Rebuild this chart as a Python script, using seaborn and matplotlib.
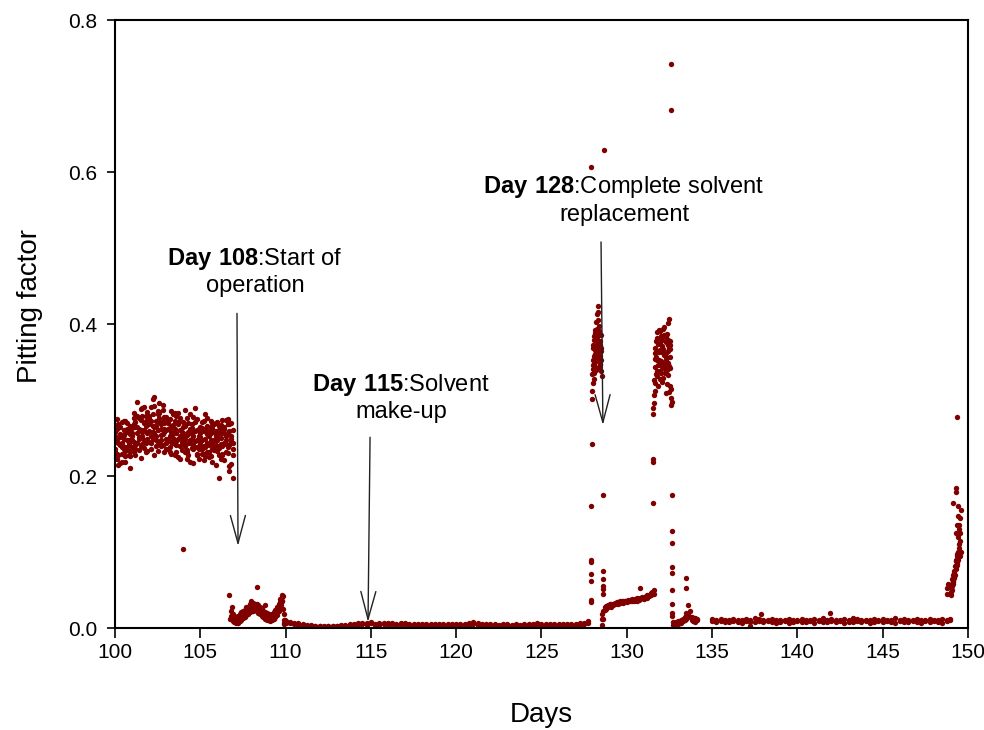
import matplotlib
matplotlib.use("Agg")
import matplotlib.pyplot as plt
import pandas as pd
import seaborn as sns

# ---------------- data ----------------
A_days = [100.0, 100.1, 100.2, 100.3, 100.4, 100.5, 100.6, 100.7, 100.8, 100.9,
          101.0, 101.1, 101.2, 101.3, 101.4, 101.5, 101.6, 101.7, 101.8, 101.9,
          102.0, 102.1, 102.2, 102.3, 102.4, 102.5, 102.6, 102.7, 102.8, 102.9,
          103.0, 103.1, 103.2, 103.3, 103.4, 103.5, 103.6, 103.7, 103.8, 103.9,
          104.0, 104.1, 104.2, 104.3, 104.4, 104.5, 104.6, 104.7, 104.8, 104.9,
          105.0, 105.1, 105.2, 105.3, 105.4, 105.5, 105.6, 105.7, 105.8, 105.9,
          106.0, 106.1, 106.2, 106.3, 106.4, 106.5, 106.6, 106.7, 106.8, 106.9]
A_v1 = [0.245, 0.262, 0.228, 0.251, 0.271, 0.236, 0.219, 0.258, 0.243, 0.266,
        0.252, 0.268, 0.241, 0.279, 0.234, 0.261, 0.289, 0.247, 0.272, 0.256,
        0.276, 0.252, 0.301, 0.264, 0.239, 0.285, 0.271, 0.247, 0.293, 0.258,
        0.261, 0.248, 0.275, 0.229, 0.256, 0.283, 0.241, 0.268, 0.222, 0.252,
        0.246, 0.266, 0.223, 0.258, 0.281, 0.237, 0.252, 0.271, 0.229, 0.262,
        0.238, 0.263, 0.221, 0.249, 0.276, 0.232, 0.257, 0.244, 0.268, 0.215,
        0.233, 0.261, 0.242, 0.274, 0.221, 0.252, 0.268, 0.207, 0.245, 0.236]
A_v2 = [0.231, 0.249, 0.214, 0.255, 0.238, 0.273, 0.226, 0.247, 0.259, 0.233,
        0.238, 0.283, 0.265, 0.297, 0.249, 0.274, 0.258, 0.291, 0.243, 0.268,
        0.279, 0.236, 0.266, 0.304, 0.253, 0.282, 0.244, 0.269, 0.287, 0.232,
        0.277, 0.236, 0.263, 0.245, 0.281, 0.228, 0.257, 0.271, 0.239, 0.250,
        0.244, 0.287, 0.234, 0.255, 0.219, 0.268, 0.241, 0.259, 0.227, 0.253,
        0.251, 0.236, 0.272, 0.226, 0.255, 0.241, 0.265, 0.218, 0.247, 0.259,
        0.271, 0.198, 0.256, 0.228, 0.265, 0.242, 0.275, 0.213, 0.249, 0.260]
A_v3 = [0.258, 0.222, 0.267, 0.241, 0.229, 0.254, 0.272, 0.235, 0.248, 0.211,
        0.263, 0.245, 0.228, 0.257, 0.276, 0.239, 0.252, 0.270, 0.231, 0.284,
        0.245, 0.291, 0.258, 0.227, 0.272, 0.261, 0.296, 0.240, 0.255, 0.278,
        0.236, 0.270, 0.253, 0.286, 0.244, 0.262, 0.231, 0.249, 0.276, 0.258,
        0.271, 0.232, 0.254, 0.244, 0.262, 0.249, 0.217, 0.238, 0.275, 0.236,
        0.264, 0.247, 0.229, 0.281, 0.243, 0.259, 0.226, 0.270, 0.239, 0.252,
        0.248, 0.228, 0.267, 0.239, 0.256, 0.274, 0.230, 0.259, 0.216, 0.244]
A_v4 = [0.236, 0.275, 0.243, 0.264, 0.218, 0.249, 0.238, 0.262, 0.227, 0.255,
        0.247, 0.232, 0.271, 0.243, 0.262, 0.224, 0.279, 0.237, 0.266, 0.249,
        0.268, 0.243, 0.282, 0.257, 0.248, 0.233, 0.276, 0.262, 0.241, 0.270,
        0.249, 0.262, 0.238, 0.258, 0.267, 0.242, 0.279, 0.225, 0.260, 0.245,
        0.257, 0.240, 0.276, 0.228, 0.247, 0.263, 0.236, 0.289, 0.248, 0.222,
        0.243, 0.229, 0.259, 0.238, 0.266, 0.225, 0.248, 0.263, 0.234, 0.270,
        0.254, 0.237, 0.222, 0.262, 0.243, 0.231, 0.256, 0.241, 0.270, 0.197]
A_v5 = [0.252, 0.229, 0.268, 0.217, 0.244, 0.261, 0.233, 0.270, 0.241, 0.226,
        0.257, 0.276, 0.236, 0.265, 0.251, 0.288, 0.242, 0.260, 0.279, 0.233,
        0.259, 0.273, 0.249, 0.292, 0.266, 0.245, 0.283, 0.254, 0.272, 0.262,
        0.244, 0.274, 0.232, 0.266, 0.250, 0.272, 0.246, 0.283, 0.253, 0.234,
        0.265, 0.249, 0.231, 0.270, 0.243, 0.256, 0.278, 0.246, 0.261, 0.239,
        0.256, 0.271, 0.240, 0.262, 0.231, 0.253, 0.273, 0.236, 0.258, 0.246,
        0.239, 0.266, 0.250, 0.229, 0.262, 0.247, 0.238, 0.269, 0.253, 0.228]

B_days = [106.8, 106.9, 107.0, 107.1, 107.2, 107.3, 107.4, 107.5, 107.6, 107.7,
          107.8, 107.9, 108.0, 108.1, 108.2, 108.3, 108.4, 108.5, 108.6, 108.7,
          108.8, 108.9, 109.0, 109.1, 109.2, 109.3, 109.4, 109.5, 109.6, 109.7,
          109.8, 109.9]
B_v1 = [0.023, 0.019, 0.016, 0.015, 0.016, 0.018, 0.021, 0.022, 0.024, 0.027,
        0.028, 0.031, 0.032, 0.033, 0.032, 0.031, 0.030, 0.027, 0.026, 0.023,
        0.021, 0.020, 0.018, 0.017, 0.019, 0.021, 0.024, 0.027, 0.032, 0.038,
        0.044, 0.011]
B_v2 = [0.012, 0.009, 0.008, 0.007, 0.007, 0.009, 0.011, 0.013, 0.015, 0.017,
        0.019, 0.021, 0.022, 0.023, 0.024, 0.022, 0.020, 0.018, 0.016, 0.014,
        0.012, 0.011, 0.010, 0.009, 0.010, 0.012, 0.014, 0.017, 0.022, 0.028,
        0.035, 0.005]
B_v3 = [0.016, 0.013, 0.011, 0.012, 0.010, 0.013, 0.015, 0.018, 0.019, 0.021,
        0.025, 0.025, 0.028, 0.027, 0.029, 0.026, 0.025, 0.022, 0.020, 0.019,
        0.016, 0.015, 0.013, 0.012, 0.015, 0.017, 0.020, 0.023, 0.026, 0.034,
        0.041, 0.007]

C_days = [110.0, 110.25, 110.5, 110.75, 111.0, 111.25, 111.5, 111.75,
          112.0, 112.25, 112.5, 112.75, 113.0, 113.25, 113.5, 113.75,
          114.0, 114.25, 114.5, 114.75, 115.0, 115.25, 115.5, 115.75,
          116.0, 116.25, 116.5, 116.75, 117.0, 117.25, 117.5, 117.75,
          118.0, 118.25, 118.5, 118.75, 119.0, 119.25, 119.5, 119.75,
          120.0, 120.25, 120.5, 120.75, 121.0, 121.25, 121.5, 121.75,
          122.0, 122.25, 122.5, 122.75, 123.0, 123.25, 123.5, 123.75,
          124.0, 124.25, 124.5, 124.75, 125.0, 125.25, 125.5, 125.75,
          126.0, 126.25, 126.5, 126.75, 127.0, 127.25, 127.5, 127.75]
C_v1 = [0.009, 0.008, 0.007, 0.006, 0.005, 0.004, 0.004, 0.003,
        0.003, 0.003, 0.002, 0.003, 0.003, 0.004, 0.004, 0.005,
        0.005, 0.006, 0.005, 0.006, 0.006, 0.005, 0.006, 0.005,
        0.006, 0.005, 0.005, 0.006, 0.005, 0.005, 0.004, 0.005,
        0.005, 0.004, 0.005, 0.005, 0.004, 0.005, 0.004, 0.005,
        0.004, 0.005, 0.004, 0.006, 0.005, 0.007, 0.005, 0.004,
        0.005, 0.004, 0.004, 0.005, 0.004, 0.004, 0.005, 0.004,
        0.005, 0.004, 0.005, 0.006, 0.005, 0.004, 0.005, 0.005,
        0.004, 0.005, 0.005, 0.004, 0.005, 0.006, 0.005, 0.007]
C_v2 = [0.006, 0.006, 0.005, 0.004, 0.003, 0.002, 0.002, 0.002,
        0.002, 0.001, 0.002, 0.002, 0.002, 0.003, 0.003, 0.004,
        0.004, 0.004, 0.007, 0.004, 0.008, 0.004, 0.004, 0.006,
        0.004, 0.006, 0.004, 0.004, 0.006, 0.003, 0.005, 0.004,
        0.003, 0.005, 0.003, 0.004, 0.005, 0.003, 0.005, 0.003,
        0.005, 0.003, 0.005, 0.004, 0.008, 0.004, 0.003, 0.005,
        0.003, 0.005, 0.003, 0.003, 0.005, 0.003, 0.004, 0.003,
        0.003, 0.005, 0.004, 0.004, 0.003, 0.005, 0.003, 0.004,
        0.005, 0.003, 0.004, 0.005, 0.003, 0.004, 0.007, 0.009]

S1_days = [127.95, 127.98, 128.0, 128.02, 128.04, 128.06, 128.08, 128.1, 128.12, 128.14,
           128.16, 128.18, 128.2, 128.22, 128.24, 128.26, 128.28, 128.3, 128.32, 128.34,
           128.36, 128.38, 128.4, 128.42, 128.44, 128.46, 128.48, 128.5]
S1_v1 = [0.312, 0.334, 0.352, 0.341, 0.373, 0.358, 0.384, 0.347, 0.392, 0.366,
         0.357, 0.381, 0.402, 0.369, 0.394, 0.413, 0.362, 0.424, 0.386, 0.371,
         0.398, 0.355, 0.389, 0.348, 0.377, 0.364, 0.338, 0.353]
S1_days2 = [127.96, 127.99, 128.01, 128.03, 128.05, 128.07, 128.09, 128.11, 128.13, 128.15,
            128.17, 128.19, 128.21, 128.23, 128.25, 128.27, 128.29, 128.31, 128.33, 128.35,
            128.37, 128.39, 128.41, 128.43, 128.45, 128.47, 128.49, 128.52]
S1_v2 = [0.301, 0.346, 0.323, 0.368, 0.336, 0.379, 0.327, 0.361, 0.343, 0.388,
         0.339, 0.356, 0.351, 0.383, 0.359, 0.374, 0.405, 0.378, 0.416, 0.344,
         0.367, 0.391, 0.358, 0.372, 0.346, 0.385, 0.369, 0.332]

T_days = [128.6, 128.7, 128.8, 128.9, 129.0, 129.1, 129.2, 129.3, 129.4, 129.5,
          129.6, 129.7, 129.8, 129.9, 130.0, 130.1, 130.2, 130.3, 130.4, 130.5,
          130.6, 130.7, 130.8, 130.9, 131.0, 131.1, 131.2, 131.3, 131.4, 131.5,
          131.6]
T_v1 = [0.022, 0.027, 0.029, 0.030, 0.031, 0.031, 0.032, 0.033, 0.034, 0.034,
        0.035, 0.035, 0.036, 0.036, 0.036, 0.037, 0.037, 0.038, 0.037, 0.038,
        0.039, 0.038, 0.040, 0.041, 0.040, 0.042, 0.043, 0.044, 0.046, 0.048,
        0.050]
T_v2 = [0.012, 0.024, 0.025, 0.027, 0.030, 0.028, 0.030, 0.031, 0.033, 0.031,
        0.033, 0.034, 0.033, 0.035, 0.034, 0.036, 0.035, 0.036, 0.035, 0.037,
        0.036, 0.037, 0.038, 0.039, 0.038, 0.041, 0.040, 0.042, 0.044, 0.046,
        0.045]

S2_days = [131.6, 131.64, 131.68, 131.72, 131.76, 131.8, 131.84, 131.88, 131.92, 131.96,
           132.0, 132.04, 132.08, 132.12, 132.16, 132.2, 132.24, 132.28, 132.32, 132.36,
           132.4, 132.44, 132.48, 132.52, 132.56, 132.6]
S2_v1 = [0.307, 0.343, 0.362, 0.334, 0.381, 0.352, 0.374, 0.392, 0.338, 0.366,
         0.384, 0.347, 0.371, 0.329, 0.359, 0.396, 0.341, 0.376, 0.353, 0.387,
         0.364, 0.401, 0.345, 0.373, 0.356, 0.314]
S2_v2 = [0.296, 0.322, 0.354, 0.377, 0.331, 0.389, 0.346, 0.363, 0.382, 0.327,
         0.351, 0.379, 0.343, 0.394, 0.386, 0.361, 0.335, 0.357, 0.383, 0.339,
         0.372, 0.333, 0.368, 0.318, 0.378, 0.302]
S2_v3 = [0.326, 0.368, 0.312, 0.357, 0.365, 0.338, 0.318, 0.353, 0.375, 0.391,
         0.336, 0.363, 0.324, 0.367, 0.348, 0.344, 0.385, 0.309, 0.362, 0.321,
         0.349, 0.379, 0.311, 0.342, 0.367, 0.293]

E_days = [132.7, 132.8, 132.9, 133.0, 133.1, 133.2, 133.3, 133.4, 133.5, 133.6,
          133.7, 133.8, 133.9, 134.0, 134.1]
E_v1 = [0.008, 0.007, 0.008, 0.009, 0.008, 0.010, 0.012, 0.015, 0.020, 0.030,
        0.022, 0.015, 0.012, 0.013, 0.012]
E_v2 = [0.004, 0.005, 0.006, 0.005, 0.006, 0.007, 0.009, 0.010, 0.012, 0.018,
        0.014, 0.010, 0.009, 0.008, 0.010]

F_days = [135.0, 135.25, 135.5, 135.75, 136.0, 136.25, 136.5, 136.75,
          137.0, 137.25, 137.5, 137.75, 138.0, 138.25, 138.5, 138.75,
          139.0, 139.25, 139.5, 139.75, 140.0, 140.25, 140.5, 140.75,
          141.0, 141.25, 141.5, 141.75, 142.0, 142.25, 142.5, 142.75,
          143.0, 143.25, 143.5, 143.75, 144.0, 144.25, 144.5, 144.75,
          145.0, 145.25, 145.5, 145.75, 146.0, 146.25, 146.5, 146.75,
          147.0, 147.25, 147.5, 147.75, 148.0, 148.25, 148.5, 148.75]
F_v1 = [0.012, 0.011, 0.012, 0.011, 0.011, 0.012, 0.010, 0.011,
        0.012, 0.011, 0.013, 0.012, 0.011, 0.010, 0.012, 0.011,
        0.010, 0.011, 0.012, 0.010, 0.011, 0.012, 0.011, 0.010,
        0.012, 0.011, 0.013, 0.011, 0.012, 0.011, 0.010, 0.012,
        0.011, 0.013, 0.012, 0.011, 0.010, 0.011, 0.012, 0.011,
        0.012, 0.010, 0.011, 0.013, 0.011, 0.012, 0.010, 0.011,
        0.012, 0.011, 0.010, 0.012, 0.011, 0.010, 0.012, 0.011]
F_v2 = [0.009, 0.008, 0.009, 0.008, 0.008, 0.009, 0.008, 0.007,
        0.009, 0.008, 0.008, 0.009, 0.008, 0.009, 0.008, 0.007,
        0.008, 0.009, 0.007, 0.008, 0.009, 0.008, 0.008, 0.009,
        0.007, 0.009, 0.008, 0.008, 0.009, 0.008, 0.009, 0.007,
        0.008, 0.008, 0.009, 0.008, 0.009, 0.007, 0.008, 0.009,
        0.008, 0.009, 0.008, 0.007, 0.009, 0.008, 0.008, 0.009,
        0.008, 0.007, 0.009, 0.008, 0.009, 0.008, 0.007, 0.009]

G_days = [148.95, 149.0, 149.03, 149.06, 149.09, 149.12, 149.15, 149.18, 149.21, 149.24,
          149.27, 149.3, 149.33, 149.36, 149.39, 149.42, 149.45, 149.48, 149.51, 149.54,
          149.57]
G_v1 = [0.012, 0.048, 0.052, 0.058, 0.055, 0.062, 0.070, 0.066, 0.075, 0.082,
        0.078, 0.090, 0.086, 0.095, 0.100, 0.092, 0.110, 0.105, 0.125, 0.115,
        0.100]
G_v2 = [0.010, 0.044, 0.057, 0.050, 0.064, 0.060, 0.058, 0.072, 0.068, 0.070,
        0.088, 0.080, 0.098, 0.083, 0.090, 0.120, 0.098, 0.135, 0.095, 0.145,
        0.155]

# isolated points
P_days = [104.0, 106.7, 106.84, 106.75, 107.97, 108.35, 108.8,
          109.75, 109.8, 109.85, 109.83, 109.88, 109.95,
          127.92, 127.93, 127.92, 127.93, 127.92, 127.93, 127.93, 127.95, 127.9,
          128.6, 128.62, 128.6, 128.62, 128.6, 128.62, 128.65,
          128.52, 128.54, 128.55, 130.8,
          131.55, 131.55, 131.52, 131.54, 131.55, 132.5,
          132.65, 132.66, 132.65, 132.65, 132.66, 132.65, 132.66, 132.65, 132.66, 132.67,
          132.62, 132.62, 133.5, 133.5,
          137.2, 137.87, 141.9,
          149.38, 149.28, 149.3, 149.12, 149.42, 149.4, 149.35, 149.3, 149.45,
          148.8, 148.8, 148.82]
P_vals = [0.104, 0.043, 0.027, 0.012, 0.035, 0.054, 0.030,
          0.030, 0.036, 0.042, 0.025, 0.018, 0.010,
          0.037, 0.034, 0.071, 0.062, 0.089, 0.087, 0.160, 0.242, 0.606,
          0.175, 0.075, 0.064, 0.055, 0.051, 0.045, 0.629,
          0.004, 0.012, 0.018, 0.053,
          0.289, 0.282, 0.222, 0.219, 0.165, 0.407,
          0.298, 0.175, 0.127, 0.112, 0.080, 0.072, 0.050, 0.031, 0.020, 0.016,
          0.742, 0.681, 0.066, 0.053,
          0.002, 0.019, 0.020,
          0.277, 0.184, 0.179, 0.165, 0.160, 0.148, 0.136, 0.125, 0.130,
          0.045, 0.052, 0.058]

x_ticks = [100, 105, 110, 115, 120, 125, 130, 135, 140, 145, 150]
y_ticks = [0.0, 0.2, 0.4, 0.6, 0.8]

annotations = [
    ("Day 108", ":Start of", "operation"),
    ("Day 115", ":Solvent", "make-up"),
    ("Day 128", ":Complete solvent", "replacement"),
]
ann_text_xy = [(108.2, 0.469), (116.76, 0.303), (129.84, 0.563)]
ann_arrow_from = [(107.15, 0.414), (114.95, 0.251), (128.49, 0.508)]
ann_arrow_to = [(107.21, 0.108), (114.83, 0.008), (128.6, 0.267)]

# ---------------- build frame ----------------
segments = [
    (A_days, [A_v1, A_v2, A_v3, A_v4, A_v5]),
    (B_days, [B_v1, B_v2, B_v3]),
    (C_days, [C_v1, C_v2]),
    (S1_days, [S1_v1]),
    (S1_days2, [S1_v2]),
    (T_days, [T_v1, T_v2]),
    (S2_days, [S2_v1, S2_v2, S2_v3]),
    (E_days, [E_v1, E_v2]),
    (F_days, [F_v1, F_v2]),
    (G_days, [G_v1, G_v2]),
    (P_days, [P_vals]),
]
frames = []
for days, series in segments:
    for vals in series:
        assert len(days) == len(vals), (len(days), len(vals))
        frames.append(pd.DataFrame({"Days": days, "Pitting factor": vals}))
df = pd.concat(frames, ignore_index=True)

# ---------------- plot ----------------
sns.set_style("ticks")
plt.rcParams["font.family"] = ["Liberation Sans", "DejaVu Sans"]
plt.rcParams["mathtext.fontset"] = "custom"
plt.rcParams["mathtext.rm"] = "Liberation Sans"
plt.rcParams["mathtext.bf"] = "Liberation Sans:bold"
plt.rcParams["text.color"] = "black"
plt.rcParams["axes.labelcolor"] = "black"

fig = plt.figure(figsize=(9.84, 7.3), dpi=100)
ax = fig.add_axes([0.1169, 0.1397, 0.8668, 0.8329])

sns.scatterplot(data=df, x="Days", y="Pitting factor", ax=ax,
                color="#800000", s=15, linewidth=0, legend=False)

ax.set_xlim(100, 150)
ax.set_ylim(0, 0.8)
ax.set_xticks(x_ticks)
ax.set_yticks(y_ticks)
ax.set_yticklabels([f"{v:.1f}" for v in y_ticks])
ax.tick_params(axis="both", direction="out", labelsize=15, width=1.2,
               colors="black")
ax.tick_params(axis="y", length=6, pad=7)
ax.tick_params(axis="x", length=7, pad=4)
for side in ["left", "right", "top", "bottom"]:
    ax.spines[side].set_visible(True)
    ax.spines[side].set_color("black")
    ax.spines[side].set_linewidth(1.5)

ax.set_xlabel("Days", fontsize=20, color="black")
ax.set_ylabel("Pitting factor", fontsize=20, color="black")
ax.xaxis.set_label_coords(0.5, -0.122)
ax.yaxis.set_label_coords(-0.085, 0.53)

for (bold, rest, line2), (tx, ty), start, end in zip(annotations, ann_text_xy,
                                                     ann_arrow_from, ann_arrow_to):
    label = r"$\mathbf{" + bold.replace(" ", r"\ ") + "}$" + rest + "\n" + line2
    ax.text(tx, ty, label, ha="center", va="center", multialignment="center",
            fontsize=17, color="black")
    ax.annotate("", xy=end, xytext=start,
                arrowprops=dict(arrowstyle="->,head_length=1.0,head_width=0.27",
                                mutation_scale=20, lw=1.0, color="#222222",
                                shrinkA=0, shrinkB=0))

fig.savefig("out.png", dpi=100)
